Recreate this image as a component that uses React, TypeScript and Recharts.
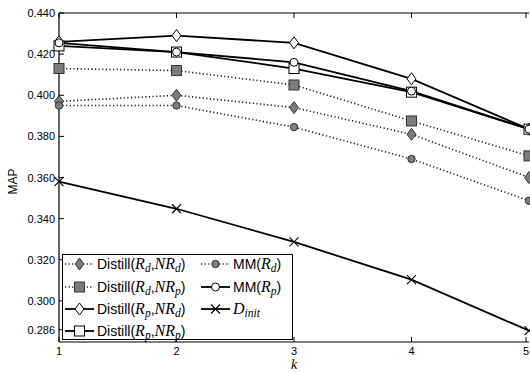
import React from 'react';
import { LineChart, Line, XAxis, YAxis, Legend } from 'recharts';

// MAP values, one entry per k
const kValues = [1, 2, 3, 4, 5];
const distillRdNRd = [0.397, 0.4, 0.394, 0.381, 0.36];
const distillRdNRp = [0.413, 0.412, 0.405, 0.3875, 0.3705];
const distillRpNRd = [0.426, 0.429, 0.4255, 0.408, 0.3835];
const distillRpNRp = [0.424, 0.421, 0.413, 0.4015, 0.3835];
const mmRd = [0.395, 0.395, 0.3845, 0.369, 0.3487];
const mmRp = [0.4255, 0.421, 0.416, 0.402, 0.3835];
const dInit = [0.358, 0.3448, 0.3287, 0.3103, 0.2855];

const yTicks = [0.286, 0.3, 0.32, 0.34, 0.36, 0.38, 0.4, 0.42, 0.429, 0.44];

const data = kValues.map((k, i) => ({
  k,
  dRdNRd: distillRdNRd[i],
  dRdNRp: distillRdNRp[i],
  dRpNRd: distillRpNRd[i],
  dRpNRp: distillRpNRp[i],
  mmRd: mmRd[i],
  mmRp: mmRp[i],
  dInit: dInit[i],
}));

type Shape = 'diamond' | 'square' | 'circle' | 'x';

const GRAY = '#7c7c7c';
const WHITE = '#ffffff';
const SANS = '"Liberation Sans", Arial, sans-serif';
const SERIF = '"Liberation Serif", "Times New Roman", serif';

const series: { key: string; shape: Shape; fill: string; dotted: boolean; label: React.ReactNode }[] = [];

const M = ({ b, s }: { b: string; s: string }) => (
  <span style={{ fontFamily: SERIF, fontStyle: 'italic', fontSize: 16 }}>
    {b}
    <span style={{ fontSize: 11.5, position: 'relative', top: 3 }}>{s}</span>
  </span>
);

const distill = (r: string, nr: string) => (
  <>
    Distill(<M b="R" s={r} />,<M b="NR" s={nr} />)
  </>
);

series.push(
  { key: 'dRdNRd', shape: 'diamond', fill: GRAY, dotted: true, label: distill('d', 'd') },
  { key: 'dRdNRp', shape: 'square', fill: GRAY, dotted: true, label: distill('d', 'p') },
  { key: 'dRpNRd', shape: 'diamond', fill: WHITE, dotted: false, label: distill('p', 'd') },
  { key: 'dRpNRp', shape: 'square', fill: WHITE, dotted: false, label: distill('p', 'p') },
  { key: 'mmRd', shape: 'circle', fill: GRAY, dotted: true, label: <>MM(<M b="R" s="d" />)</> },
  { key: 'mmRp', shape: 'circle', fill: WHITE, dotted: false, label: <>MM(<M b="R" s="p" />)</> },
  { key: 'dInit', shape: 'x', fill: 'none', dotted: false, label: <M b="D" s="init" /> },
);

const Marker = ({ shape, cx, cy, fill }: { shape: Shape; cx: number; cy: number; fill: string }) => {
  const stroke = fill === GRAY ? '#333' : '#000';
  if (shape === 'diamond')
    return (
      <polygon
        points={`${cx},${cy - 6} ${cx + 4.5},${cy} ${cx},${cy + 6} ${cx - 4.5},${cy}`}
        fill={fill}
        stroke={stroke}
        strokeWidth={1}
      />
    );
  if (shape === 'square')
    return <rect x={cx - 5} y={cy - 5} width={10} height={10} fill={fill} stroke={stroke} strokeWidth={1} />;
  if (shape === 'circle')
    return <circle cx={cx} cy={cy} r={fill === GRAY ? 3.7 : 4} fill={fill} stroke={stroke} strokeWidth={1} />;
  return (
    <path
      d={`M${cx - 4.5},${cy - 4.5}L${cx + 4.5},${cy + 4.5}M${cx - 4.5},${cy + 4.5}L${cx + 4.5},${cy - 4.5}`}
      stroke="#000"
      strokeWidth={1.1}
    />
  );
};

const lineProps = (dotted: boolean) =>
  dotted
    ? { stroke: '#1a1a1a', strokeWidth: 1.6, strokeDasharray: '1.2 2.4' }
    : { stroke: '#000', strokeWidth: 1.8 };

// inward ticks, MATLAB style
const BottomTick = ({ x, y, payload }: any) => (
  <g>
    <line x1={x} y1={y} x2={x} y2={y - 5} stroke="#000" />
    <text x={x} y={y + 13} textAnchor="middle" fontSize={11} fontFamily={SANS} fill="#000">
      {payload.value}
    </text>
  </g>
);

const LeftTick = ({ x, y, payload }: any) => (
  <g>
    <line x1={x} y1={y} x2={x + 5} y2={y} stroke="#000" />
    <text x={x - 4} y={y + 4} textAnchor="end" fontSize={11} fontFamily={SANS} fill="#000">
      {payload.value.toFixed(3)}
    </text>
  </g>
);

const TopTick = ({ x, y }: any) => <line x1={x} y1={y} x2={x} y2={y + 5} stroke="#000" />;
const RightTick = ({ x, y }: any) => <line x1={x} y1={y} x2={x - 5} y2={y} stroke="#000" />;

const Sample = ({ shape, fill, dotted }: { shape: Shape; fill: string; dotted: boolean }) => (
  <svg width={31} height={16} style={{ flex: 'none', overflow: 'visible' }}>
    <line x1={1} y1={8} x2={30} y2={8} {...lineProps(dotted)} />
    <Marker shape={shape} cx={15.5} cy={8} fill={fill} />
  </svg>
);

const renderLegend = () => {
  const item = (s: (typeof series)[number]) => (
    <div key={s.key} style={{ display: 'flex', alignItems: 'center', height: 22.4, whiteSpace: 'nowrap' }}>
      <Sample shape={s.shape} fill={s.fill} dotted={s.dotted} />
      <span style={{ marginLeft: 2, fontFamily: SANS, fontSize: 14, color: '#000' }}>{s.label}</span>
    </div>
  );
  return (
    <div
      style={{
        boxSizing: 'border-box',
        width: 231,
        height: 86,
        border: '1.2px solid #000',
        background: '#fff',
        display: 'flex',
        paddingLeft: 1,
      }}
    >
      <div style={{ width: 136, marginTop: -2 }}>{series.slice(0, 4).map(item)}</div>
      <div style={{ marginTop: -2 }}>{series.slice(4).map(item)}</div>
    </div>
  );
};

export default function App() {
  return (
    <div style={{ position: 'absolute', left: 0, top: 0, background: '#fff' }}>
      <LineChart width={530} height={372} data={data} margin={{ top: 0, right: 0, bottom: 0, left: 0 }}>
        <XAxis
          dataKey="k"
          type="number"
          domain={[1, 5]}
          ticks={kValues}
          height={30}
          tickSize={0}
          tickMargin={0}
          tick={<BottomTick />}
          axisLine={{ stroke: '#000', strokeWidth: 1.2 }}
          tickLine={false}
          label={{
            value: 'k',
            position: 'insideBottom',
            offset: 3,
            fontFamily: SERIF,
            fontStyle: 'italic',
            fontSize: 14,
            fill: '#000',
          }}
        />
        <XAxis
          xAxisId="top"
          dataKey="k"
          orientation="top"
          type="number"
          domain={[1, 5]}
          ticks={kValues}
          height={13}
          tickSize={0}
          tickMargin={0}
          tick={<TopTick />}
          axisLine={{ stroke: '#000', strokeWidth: 1.2 }}
          tickLine={false}
        />
        <YAxis
          type="number"
          domain={[0.28, 0.44]}
          ticks={yTicks}
          width={59}
          tickSize={0}
          tickMargin={0}
          tick={<LeftTick />}
          axisLine={{ stroke: '#000', strokeWidth: 1.2 }}
          tickLine={false}
          label={{
            content: ({ viewBox }: any) => {
              const cy = viewBox.y + viewBox.height / 2 + 4;
              return (
                <text
                  x={17}
                  y={cy}
                  transform={`rotate(-90 17 ${cy})`}
                  textAnchor="middle"
                  fontSize={12}
                  fontFamily={SANS}
                  fill="#000"
                >
                  MAP
                </text>
              );
            },
          }}
        />
        <YAxis
          yAxisId="right"
          orientation="right"
          type="number"
          domain={[0.28, 0.44]}
          ticks={yTicks}
          width={1}
          tickSize={0}
          tickMargin={0}
          tick={<RightTick />}
          axisLine={false}
          tickLine={false}
        />
        {[...series.filter((s) => s.dotted), ...series.filter((s) => !s.dotted)].map((s) => (
          <Line
            key={s.key}
            type="linear"
            dataKey={s.key}
            isAnimationActive={false}
            {...lineProps(s.dotted)}
            dot={(p: any) => (
              <Marker key={`${s.key}-${p.index}`} shape={s.shape} cx={p.cx} cy={p.cy} fill={s.fill} />
            )}
            activeDot={false}
            legendType="none"
          />
        ))}
        <Legend
          layout="vertical"
          align="center"
          verticalAlign="middle"
          content={renderLegend}
          wrapperStyle={{ left: 62, top: 254, width: 231, height: 86 }}
        />
      </LineChart>
    </div>
  );
}
